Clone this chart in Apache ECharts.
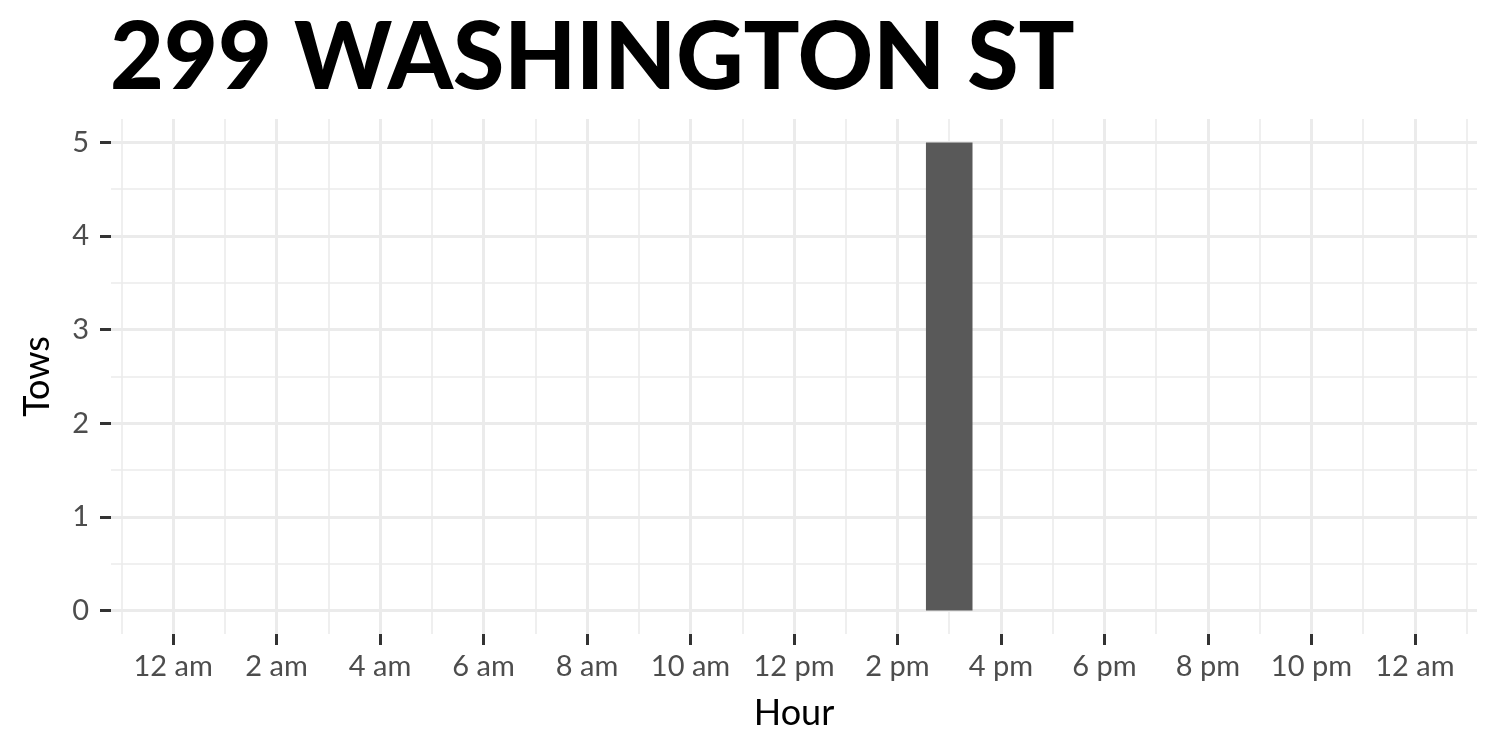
<!DOCTYPE html>
<html><head><meta charset="utf-8">
<script src="https://cdn.jsdelivr.net/npm/echarts@6/dist/echarts.min.js"></script>
<style>html,body{margin:0;padding:0;background:#fff}#c{width:1500px;height:750px}</style>
</head><body><div id="c"></div>
<script>
const chartTitle = "299 WASHINGTON ST";
const hours = [0,1,2,3,4,5,6,7,8,9,10,11,12,13,14,15,16,17,18,19,20,21,22,23];
const tows  = [0,0,0,0,0,0,0,0,0,0,0,0,0,0,0,5,0,0,0,0,0,0,0,0];
const xTickValues = [0,2,4,6,8,10,12,14,16,18,20,22,24];
const xTickLabels = ["12 am","2 am","4 am","6 am","8 am","10 am","12 pm","2 pm","4 pm","6 pm","8 pm","10 pm","12 am"];
const xMinorValues = [-1,1,3,5,7,9,11,13,15,17,19,21,23,25];
const yTickValues = [0,1,2,3,4,5];
const yMinorValues = [0.5,1.5,2.5,3.5,4.5];
const xName = "Hour", yName = "Tows";

const FONT = 'Lato';
const GRID = '#ebebeb';
const chart = echarts.init(document.getElementById('c'), null, {renderer: 'canvas'});
const labelMap = {};
xTickValues.forEach((v, i) => labelMap[v] = xTickLabels[i]);

const hiddenX = {
  type: 'value', min: -1.2, max: 25.2, position: 'bottom',
  axisLine: {show: false}, axisLabel: {show: false},
  axisTick: {show: false, customValues: xMinorValues},
  splitLine: {show: true, lineStyle: {color: GRID, width: 1.6}}
};
const hiddenY = {
  type: 'value', min: -0.25, max: 5.25, position: 'left',
  axisLine: {show: false}, axisLabel: {show: false},
  axisTick: {show: false, customValues: yMinorValues},
  splitLine: {show: true, lineStyle: {color: GRID, width: 1.6}}
};

chart.setOption({
  animation: false,
  backgroundColor: '#fff',
  title: {
    text: chartTitle, left: 110, top: 12, padding: 0,
    textStyle: {fontFamily: FONT, fontWeight: 900, fontSize: 93, color: '#000'}
  },
  grid: {left: 111, right: 23, top: 119, bottom: 116, outerBoundsMode: 'none'},
  xAxis: [{
    type: 'value', min: -1.2, max: 25.2, position: 'bottom',
    name: xName, nameLocation: 'middle', nameGap: 61,
    nameTextStyle: {fontFamily: FONT, fontSize: 36, color: '#000'},
    axisLine: {show: false, onZero: false},
    axisTick: {show: true, customValues: xTickValues, length: 11, lineStyle: {color: '#333', width: 3}},
    axisLabel: {show: true, customValues: xTickValues, margin: 18,
      fontFamily: FONT, fontSize: 29, color: '#4d4d4d',
      formatter: v => labelMap[v] !== undefined ? labelMap[v] : ''},
    splitLine: {show: true, lineStyle: {color: GRID, width: 3}}
  }, hiddenX],
  yAxis: [{
    type: 'value', min: -0.25, max: 5.25, position: 'left',
    name: yName, nameLocation: 'middle', nameGap: 56, nameRotate: 90,
    nameTextStyle: {fontFamily: FONT, fontSize: 36, color: '#000'},
    axisLine: {show: false, onZero: false},
    axisTick: {show: true, customValues: yTickValues, length: 11, lineStyle: {color: '#333', width: 3}},
    axisLabel: {show: true, customValues: yTickValues, margin: 22,
      fontFamily: FONT, fontSize: 29, color: '#4d4d4d', formatter: v => String(v)},
    splitLine: {show: true, lineStyle: {color: GRID, width: 3}}
  }, hiddenY],
  series: [{
    type: 'custom', xAxisIndex: 0, yAxisIndex: 0,
    encode: {x: 0, y: 1},
    data: hours.map((h, i) => [h, tows[i]]),
    renderItem: function (params, api) {
      const x = api.value(0), y = api.value(1);
      if (!y) return null;
      const p0 = api.coord([x - 0.45, y]);
      const p1 = api.coord([x + 0.45, 0]);
      return {type: 'rect', shape: {x: p0[0], y: p0[1], width: p1[0] - p0[0], height: p1[1] - p0[1]},
        style: {fill: '#595959'}};
    }
  }]
});
</script></body></html>
